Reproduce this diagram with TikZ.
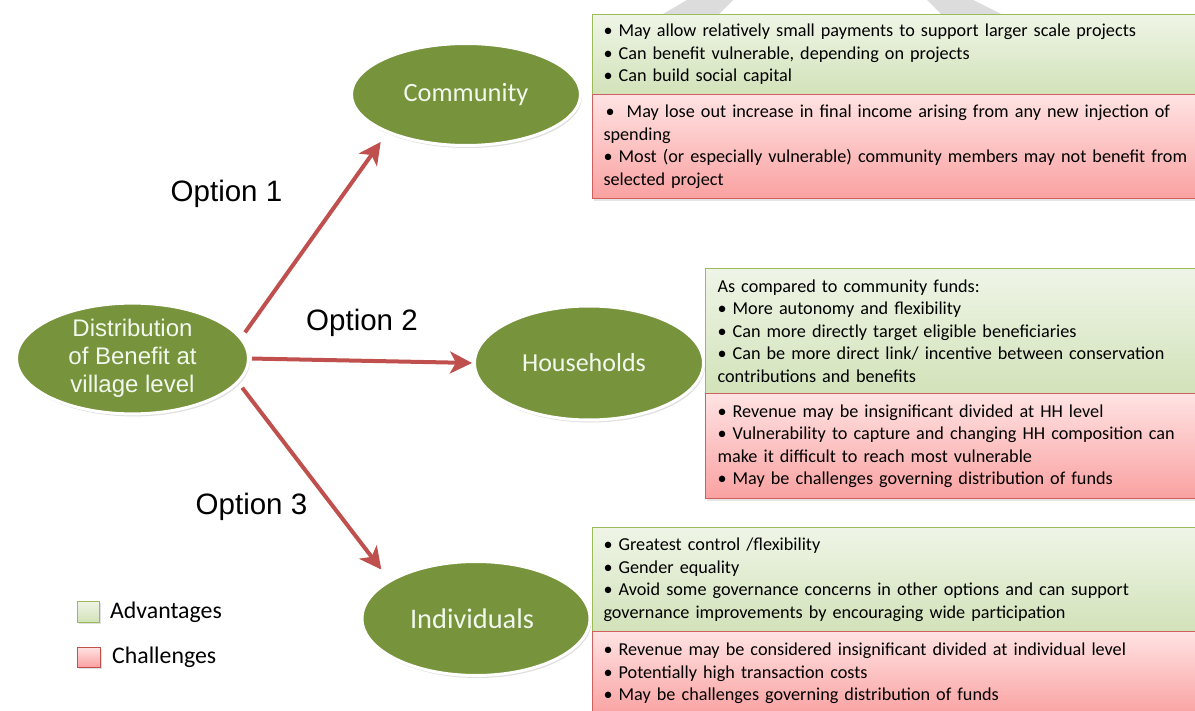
\documentclass[tikz,border=0pt]{standalone}
\usepackage{fontspec}
\setmainfont{Carlito}
\newfontfamily\arialfont{Liberation Sans}
\usetikzlibrary{shapes.geometric,arrows.meta,shadows}

\definecolor{leafgreen}{HTML}{77933C}
\definecolor{leaftext}{HTML}{F2F8EE}
\definecolor{arrowred}{HTML}{C0504D}
\definecolor{advborder}{HTML}{9BBB59}
\definecolor{advtop}{HTML}{EFF5E7}
\definecolor{advbot}{HTML}{D2E2B9}
\definecolor{chalborder}{HTML}{D0605D}
\definecolor{chaltop}{HTML}{FFE3E3}
\definecolor{chalbot}{HTML}{FAA1A1}
\definecolor{backshape}{HTML}{DCDCDC}

\tikzset{
  bubble/.style={ellipse, draw=white, line width=3bp, fill=leafgreen,
    text=leaftext, inner sep=0pt, align=center,
    drop shadow={opacity=0.25, shadow xshift=1.5bp, shadow yshift=-2.5bp}},
  optarrow/.style={draw=arrowred, line width=4bp,
    -{Stealth[length=22bp,width=22bp,inset=6bp]}},
  optlabel/.style={font=\arialfont\fontsize{29.5bp}{34bp}\selectfont, text=black, inner sep=0pt},
  notebox/.style={rectangle, anchor=north west, line width=1bp, align=left,
    inner xsep=11bp, inner ysep=0pt, text=black,
    font=\fontsize{18.2bp}{22.5bp}\selectfont,
    drop shadow={opacity=0.2, shadow xshift=1.5bp, shadow yshift=-2bp}},
  advbox/.style={notebox, draw=advborder, top color=advtop, bottom color=advbot},
  chalbox/.style={notebox, draw=chalborder, top color=chaltop, bottom color=chalbot},
  keysquare/.style={rectangle, line width=1bp, inner sep=0pt,
    drop shadow={opacity=0.25, shadow xshift=1bp, shadow yshift=-1.5bp}},
  keytext/.style={anchor=base west, inner sep=0pt, font=\fontsize{23.8bp}{28bp}\selectfont}
}

\begin{document}
\begin{tikzpicture}[x=1bp,y=-1bp]
\useasboundingbox (0,0) rectangle (1195,711);
\clip (0,0) rectangle (1195,711);
\fill[white] (0,0) rectangle (1195,711);

% pale chevron tips showing above the first box
\fill[backshape] (695.5,-5) -- (738,-5) -- (719,14) -- (663,14) -- cycle;
\fill[backshape] (922,-5) -- (963,-5) -- (1001,14) -- (941,14) -- cycle;

% central choice and the three levels of distribution
\node[bubble, minimum width=232bp, minimum height=110bp,
      font=\arialfont\fontsize{24bp}{28bp}\selectfont]
  (dist) at (132.5,358.5) {Distribution\\of Benefit at\\village level};
\node[bubble, font=\fontsize{26.4bp}{30bp}\selectfont,
      minimum width=229bp, minimum height=102bp]
  (comm) at (466,94.5) {Community};
\node[bubble, font=\fontsize{26bp}{30bp}\selectfont,
      minimum width=229bp, minimum height=114bp]
  (hh) at (589,363) {Households\hspace*{10bp}};
\node[bubble, font=\fontsize{28.4bp}{32bp}\selectfont,
      minimum width=228bp, minimum height=114bp]
  (ind) at (476,618.5) {Individuals\hspace*{8bp}};

% options
\draw[optarrow, shorten <=6bp, shorten >=11bp] (dist.11) -- (comm.206);
\draw[optarrow, shorten <=2bp, shorten >=1bp] (dist.0) -- (hh.180);
\draw[optarrow, shorten <=6bp, shorten >=13bp] (dist.347) -- (ind.156);

\node[optlabel] (opt1) at (226.5,194) {Option 1};
\node[optlabel] (opt2) at (362,323) {Option 2};
\node[optlabel] (opt3) at (251.5,507) {Option 3};

% community: advantages and challenges
\node[advbox, minimum width=640bp, text width=618bp, minimum height=80bp]
  (commadv) at (592,14) {%
  • May allow relatively small payments to support larger scale projects\\
  • Can benefit vulnerable, depending on projects\\
  • Can build social capital};
\node[chalbox, minimum width=640bp, text width=618bp, minimum height=104bp]
  (commchal) at (592,94) {%
  \hspace{2bp}•\ \ May lose out increase in final income arising from any new injection of\\
  spending\\
  • Most (or especially vulnerable) community members may not benefit from\\
  selected project};

% households: advantages and challenges
\node[advbox, inner xsep=12bp, minimum width=530bp, text width=506bp, minimum height=125bp]
  (hhadv) at (705,268) {%
  As compared to community funds:\\
  • More autonomy and flexibility\\
  • Can more directly target eligible beneficiaries\\
  • Can be more direct link/ incentive between conservation\\
  contributions and benefits};
\node[chalbox, inner xsep=12bp, minimum width=530bp, text width=506bp, minimum height=105bp]
  (hhchal) at (705,393) {%
  • Revenue may be insignificant divided at HH level\\
  • Vulnerability to capture and changing HH composition can\\
  make it difficult to reach most vulnerable\\
  • May be challenges governing distribution of funds};

% individuals: advantages and challenges
\node[advbox, minimum width=640bp, text width=618bp, minimum height=104bp]
  (indadv) at (592,527) {%
  • Greatest control /flexibility\\
  • Gender equality\\
  • Avoid some governance concerns in other options and can support\\
  governance improvements by encouraging wide participation};
\node[chalbox, minimum width=640bp, text width=618bp, minimum height=84bp]
  (indchal) at (592,631) {%
  • Revenue may be considered insignificant divided at individual level\\
  • Potentially high transaction costs\\
  • May be challenges governing distribution of funds};

% key
\node[keysquare, draw=advborder, top color=advtop, bottom color=advbot,
      minimum width=22bp, minimum height=21bp] (advkey) at (88.5,611.5) {};
\node[keytext] (advtxt) at (110,618) {Advantages};
\node[keysquare, draw=arrowred, top color=chaltop, bottom color=chalbot,
      minimum width=23bp, minimum height=20bp] (chalkey) at (89,657) {};
\node[keytext] (chaltxt) at (112,663) {Challenges};
\end{tikzpicture}
\end{document}
